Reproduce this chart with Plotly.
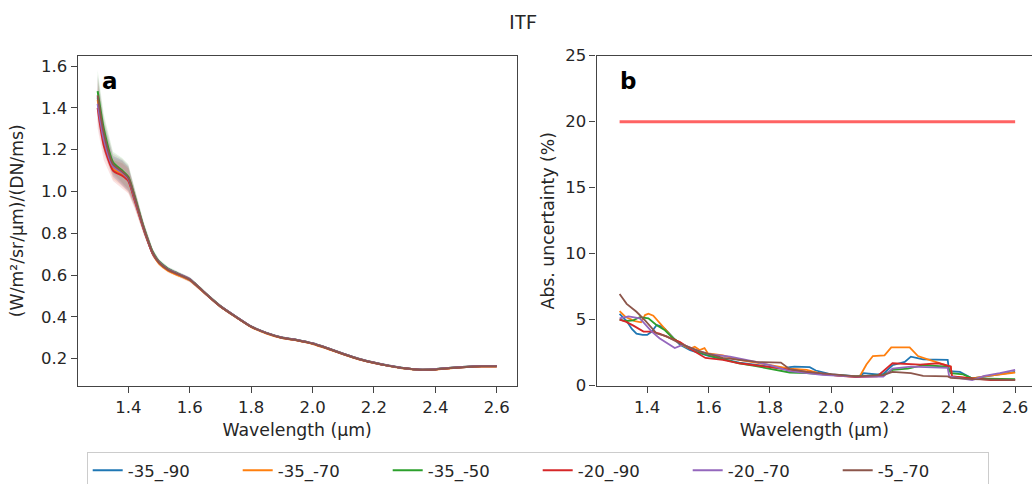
import plotly.graph_objects as go

# ---------------- data ----------------
SERIES = ["-35_-90", "-35_-70", "-35_-50", "-20_-90", "-20_-70", "-5_-70"]
COLORS = ["#1f77b4", "#ff7f0e", "#2ca02c", "#d62728", "#9467bd", "#8c564b"]

# panel a: ITF spectra
WL_A = [1.30, 1.32, 1.35, 1.38, 1.40, 1.42, 1.45, 1.48, 1.50, 1.53, 1.56, 1.60, 1.63, 1.66,
        1.70, 1.75, 1.80, 1.85, 1.90, 1.95, 2.00, 2.05, 2.10, 2.15, 2.20, 2.25, 2.30, 2.35,
        2.40, 2.45, 2.50, 2.55, 2.60]
ITF_1 = [1.45, 1.27, 1.12, 1.09, 1.06, 0.97, 0.82, 0.70, 0.66, 0.625, 0.605, 0.578, 0.54, 0.50,
         0.45, 0.40, 0.353, 0.322, 0.300, 0.288, 0.272, 0.248, 0.222, 0.198, 0.180, 0.165, 0.153, 0.146,
         0.148, 0.155, 0.160, 0.163, 0.163]
ITF_2 = [1.44, 1.26, 1.11, 1.085, 1.055, 0.965, 0.82, 0.70, 0.655, 0.62, 0.60, 0.575, 0.538, 0.498,
         0.448, 0.398, 0.351, 0.320, 0.298, 0.286, 0.270, 0.246, 0.220, 0.196, 0.178, 0.164, 0.152, 0.145,
         0.147, 0.154, 0.159, 0.162, 0.162]
ITF_3 = [1.48, 1.30, 1.14, 1.10, 1.07, 0.98, 0.83, 0.71, 0.665, 0.63, 0.608, 0.58, 0.542, 0.502,
         0.452, 0.401, 0.354, 0.323, 0.301, 0.289, 0.273, 0.249, 0.223, 0.199, 0.181, 0.166, 0.154, 0.147,
         0.149, 0.156, 0.161, 0.164, 0.164]
ITF_4 = [1.40, 1.22, 1.10, 1.075, 1.05, 0.96, 0.82, 0.70, 0.66, 0.625, 0.605, 0.578, 0.54, 0.50,
         0.45, 0.40, 0.353, 0.322, 0.300, 0.288, 0.272, 0.248, 0.222, 0.198, 0.180, 0.165, 0.153, 0.146,
         0.148, 0.155, 0.160, 0.163, 0.163]
ITF_5 = [1.42, 1.25, 1.12, 1.09, 1.06, 0.97, 0.825, 0.705, 0.662, 0.627, 0.607, 0.58, 0.541, 0.501,
         0.451, 0.401, 0.354, 0.323, 0.301, 0.289, 0.273, 0.249, 0.223, 0.199, 0.181, 0.166, 0.154, 0.147,
         0.149, 0.156, 0.161, 0.164, 0.164]
ITF_6 = [1.46, 1.28, 1.13, 1.095, 1.065, 0.975, 0.826, 0.705, 0.66, 0.625, 0.605, 0.578, 0.54, 0.50,
         0.45, 0.40, 0.353, 0.322, 0.300, 0.288, 0.272, 0.248, 0.222, 0.198, 0.180, 0.165, 0.153, 0.146,
         0.148, 0.155, 0.160, 0.163, 0.163]
ITF_SPREAD = [0.10, 0.07, 0.05, 0.06, 0.06, 0.04, 0.025, 0.015, 0.012, 0.010, 0.010, 0.010, 0.008, 0.006,
              0.005, 0.005, 0.004, 0.004, 0.004, 0.004, 0.004, 0.004, 0.004, 0.004, 0.004, 0.004, 0.004, 0.004,
              0.004, 0.004, 0.004, 0.004, 0.004]
ITF_ALL = [ITF_1, ITF_2, ITF_3, ITF_4, ITF_5, ITF_6]

# panel b: absolute uncertainty (%)
UB_X1 = [1.31, 1.333, 1.35, 1.365, 1.385, 1.40, 1.415, 1.431, 1.445, 1.458, 1.48, 1.507, 1.54, 1.57, 1.60,
         1.65, 1.70, 1.75, 1.80, 1.84, 1.865, 1.88, 1.93, 1.95, 2.0, 2.05, 2.09, 2.106, 2.15, 2.17, 2.2,
         2.24, 2.26, 2.3, 2.38, 2.385, 2.42, 2.46, 2.5, 2.55, 2.6]
UB_Y1 = [5.45, 4.9, 4.3, 3.95, 3.85, 3.85, 4.1, 4.6, 4.5, 4.3, 3.75, 3.1, 2.7, 2.5, 2.25,
         2.0, 1.75, 1.6, 1.45, 1.3, 1.4, 1.45, 1.4, 1.15, 0.85, 0.75, 0.7, 0.95, 0.85, 0.9, 1.55,
         1.8, 2.2, 2.0, 1.95, 1.1, 1.05, 0.55, 0.7, 0.85, 1.05]
UB_X2 = [1.31, 1.33, 1.36, 1.38, 1.393, 1.404, 1.42, 1.44, 1.462, 1.484, 1.517, 1.539, 1.555, 1.571, 1.587,
         1.598, 1.647, 1.70, 1.755, 1.81, 1.865, 1.92, 1.97, 2.03, 2.093, 2.115, 2.136, 2.174, 2.196, 2.256,
         2.283, 2.315, 2.375, 2.39, 2.394, 2.46, 2.5, 2.55, 2.6]
UB_Y2 = [5.65, 5.2, 4.9, 4.8, 5.35, 5.45, 5.3, 4.75, 4.15, 3.6, 3.05, 2.8, 2.95, 2.7, 2.85,
         2.45, 2.3, 1.95, 1.75, 1.55, 1.3, 1.2, 0.9, 0.75, 0.7, 1.6, 2.25, 2.3, 2.9, 2.9,
         2.25, 2.0, 1.6, 1.45, 0.7, 0.55, 0.7, 0.85, 1.0]
UB_X3 = [1.31, 1.33, 1.355, 1.376, 1.404, 1.43, 1.458, 1.484, 1.517, 1.56, 1.60, 1.65, 1.70, 1.75, 1.80,
         1.865, 1.92, 1.97, 2.03, 2.08, 2.17, 2.2, 2.25, 2.3, 2.38, 2.39, 2.43, 2.46, 2.5, 2.55, 2.6]
UB_Y3 = [5.0, 4.9, 4.95, 5.2, 5.1, 4.6, 4.2, 3.6, 3.1, 2.6, 2.3, 2.0, 1.7, 1.5, 1.3,
         1.0, 0.95, 0.85, 0.78, 0.7, 0.8, 1.2, 1.3, 1.55, 1.45, 0.95, 0.85, 0.55, 0.55, 0.5, 0.5]
UB_X4 = [1.31, 1.33, 1.355, 1.388, 1.415, 1.44, 1.475, 1.507, 1.54, 1.59, 1.647, 1.70, 1.75, 1.80, 1.865,
         1.92, 1.97, 2.03, 2.08, 2.15, 2.19, 2.2, 2.29, 2.35, 2.39, 2.394, 2.46, 2.52, 2.6]
UB_Y4 = [5.0, 4.85, 4.55, 4.1, 4.1, 3.95, 3.6, 3.3, 2.8, 2.1, 1.95, 1.7, 1.55, 1.4, 1.2,
         1.0, 0.9, 0.75, 0.65, 0.7, 1.45, 1.7, 1.6, 1.7, 1.45, 0.7, 0.55, 0.43, 0.43]
UB_X5 = [1.31, 1.339, 1.376, 1.395, 1.415, 1.44, 1.475, 1.49, 1.517, 1.56, 1.60, 1.67, 1.755, 1.80, 1.865,
         1.92, 1.97, 2.08, 2.17, 2.2, 2.26, 2.38, 2.385, 2.46, 2.5, 2.55, 2.6]
UB_Y5 = [5.1, 5.25, 5.1, 4.6, 4.1, 3.6, 3.1, 2.85, 3.1, 2.7, 2.4, 2.2, 1.8, 1.55, 1.1,
         0.95, 0.82, 0.69, 0.69, 1.3, 1.45, 1.35, 0.7, 0.43, 0.75, 0.95, 1.2]
UB_X6 = [1.31, 1.333, 1.365, 1.393, 1.431, 1.462, 1.507, 1.571, 1.647, 1.70, 1.755, 1.836, 1.865, 1.92, 1.97,
         2.03, 2.08, 2.17, 2.2, 2.26, 2.3, 2.38, 2.39, 2.46, 2.52, 2.6]
UB_Y6 = [6.95, 6.2, 5.6, 4.95, 3.95, 3.75, 3.2, 2.6, 2.1, 1.95, 1.8, 1.75, 1.25, 1.05, 0.95,
         0.8, 0.7, 0.8, 1.05, 0.95, 0.75, 0.7, 0.6, 0.5, 0.45, 0.43]
UB_X = [UB_X1, UB_X2, UB_X3, UB_X4, UB_X5, UB_X6]
UB_Y = [UB_Y1, UB_Y2, UB_Y3, UB_Y4, UB_Y5, UB_Y6]

REQ_X = [1.31, 2.6]
REQ_Y = [20, 20]

X_TICKS = [1.4, 1.6, 1.8, 2.0, 2.2, 2.4, 2.6]
YA_TICKS = [0.2, 0.4, 0.6, 0.8, 1.0, 1.2, 1.4, 1.6]
YB_TICKS = [0, 5, 10, 15, 20, 25]

# ---------------- figure ----------------
FONT = "DejaVu Sans"
TXT = "#262626"
SPINE = "#444444"
LAB = 17.3


def rgba(hexc, a):
    h = hexc.lstrip("#")
    return "rgba(%d,%d,%d,%.3f)" % (int(h[0:2], 16), int(h[2:4], 16), int(h[4:6], 16), a)


fig = go.Figure()

# shaded bands (panel a)
for vals, col in zip(ITF_ALL, COLORS):
    up = [v + s for v, s in zip(vals, ITF_SPREAD)]
    lo = [v - s for v, s in zip(vals, ITF_SPREAD)]
    fig.add_trace(go.Scatter(x=WL_A + WL_A[::-1], y=up + lo[::-1], fill="toself",
                             fillcolor=rgba(col, 0.13), line=dict(width=0), mode="lines",
                             showlegend=False, hoverinfo="skip", xaxis="x", yaxis="y"))

for name, vals, col in zip(SERIES, ITF_ALL, COLORS):
    fig.add_trace(go.Scatter(x=WL_A, y=vals, name=name, mode="lines",
                             line=dict(color=col, width=2, shape="spline", smoothing=0.6),
                             xaxis="x", yaxis="y"))

for name, xs, ys, col in zip(SERIES, UB_X, UB_Y, COLORS):
    fig.add_trace(go.Scatter(x=xs, y=ys, name=name, mode="lines", showlegend=False,
                             line=dict(color=col, width=1.8), xaxis="x2", yaxis="y2"))

fig.add_trace(go.Scatter(x=REQ_X, y=REQ_Y, mode="lines", showlegend=False,
                         line=dict(color="rgba(255,60,60,0.8)", width=3), xaxis="x2", yaxis="y2"))

W, H = 1032, 484
Y0 = (H - 385.7) / H
Y1 = (H - 55.7) / H

axis_common = dict(showgrid=False, zeroline=False, showline=True, linecolor=SPINE, linewidth=1.3,
                   ticks="outside", ticklen=6, tickwidth=1.3, tickcolor=SPINE,
                   tickfont=dict(family=FONT, size=16.5, color=TXT), automargin=False)

fig.update_layout(
    width=W, height=H,
    margin=dict(l=0, r=0, t=0, b=0, autoexpand=False),
    paper_bgcolor="white", plot_bgcolor="white",
    font=dict(family=FONT, size=16.5, color=TXT),
    title=dict(text="ITF", x=523 / W, xanchor="center", y=1 - 22 / H, yanchor="middle",
               font=dict(family="Lato", size=19, color=TXT)),
    xaxis=dict(domain=[77.7 / W, 516.7 / W], range=[1.235, 2.665], tickvals=X_TICKS,
               ticktext=["%.1f" % v for v in X_TICKS], mirror=True, anchor="y",
               title=dict(text="Wavelength (μm)", standoff=8, font=dict(size=LAB)), **axis_common),
    yaxis=dict(domain=[Y0, Y1], range=[0.07, 1.65], tickvals=YA_TICKS,
               ticktext=["%.1f" % v for v in YA_TICKS], mirror=True, anchor="x",
               title=dict(text="(W/m²/sr/μm)/(DN/ms)", standoff=12, font=dict(size=LAB)), **axis_common),
    xaxis2=dict(domain=[596.6 / W, 1.0], range=[1.235, 2.655], tickvals=X_TICKS,
                ticktext=["%.1f" % v for v in X_TICKS], mirror=True, anchor="y2",
                title=dict(text="Wavelength (μm)", standoff=8, font=dict(size=LAB)), **axis_common),
    yaxis2=dict(domain=[Y0, Y1], range=[0, 25], tickvals=YB_TICKS,
                ticktext=[str(v) for v in YB_TICKS], mirror=False, anchor="x2",
                title=dict(text="Abs. uncertainty (%)", standoff=6, font=dict(size=LAB)), **axis_common),
    legend=dict(orientation="h", x=86.7 / W, xanchor="left", y=(H - 452) / H, yanchor="top",
                bgcolor="white", bordercolor="#cccccc", borderwidth=1,
                font=dict(family=FONT, size=16.5, color=TXT),
                entrywidth=105, entrywidthmode="pixels"),
    annotations=[
        dict(text="<b>a</b>", xref="x domain", yref="y domain", x=0.05, y=0.923,
             xanchor="left", yanchor="middle", showarrow=False,
             font=dict(family=FONT, size=23, color="black")),
        dict(text="<b>b</b>", xref="x2 domain", yref="y2 domain", x=0.05, y=0.923,
             xanchor="left", yanchor="middle", showarrow=False,
             font=dict(family=FONT, size=23, color="black")),
    ],
)

fig.write_html("out.html", config={"displayModeBar": False},
               post_script="document.body.style.margin='0';document.body.style.padding='0';"
                           "document.body.style.overflow='hidden';")
